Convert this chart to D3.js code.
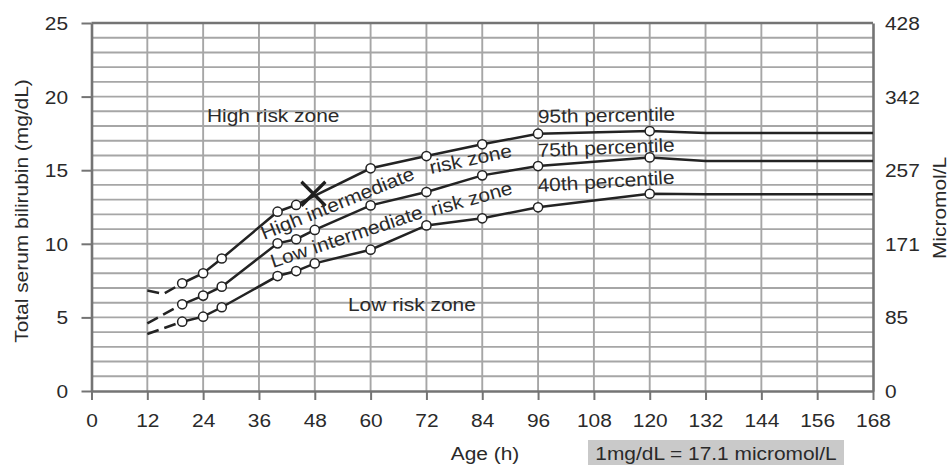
<!DOCTYPE html>
<html><head><meta charset="utf-8">
<script src="https://cdn.jsdelivr.net/npm/d3@7"></script>
<style>
body{margin:0;background:#fff}
text{font-family:"Liberation Sans",Arial,Helvetica,sans-serif;fill:#2a2a2a}
</style>
</head><body>
<svg id="c" width="949" height="465"></svg>
<script>
// ---- data ----
const xTicks = [0,12,24,36,48,60,72,84,96,108,120,132,144,156,168];
const yTicks = [0,5,10,15,20,25];
const yTickMicromol = ["0","85","171","257","342","428"];

const p95Hours  = [19.5,24,28,40,44,60,72,84,96,120,132,168];
const p95Values = [7.32,8.0,9.0,12.18,12.64,15.13,15.96,16.76,17.48,17.66,17.52,17.52];
const p75Hours  = [19.5,24,28,40,44,48,60,72,84,96,120,132,168];
const p75Values = [5.89,6.48,7.09,10.03,10.31,10.94,12.61,13.52,14.65,15.28,15.87,15.62,15.62];
const p40Hours  = [19.5,24,28,40,44,48,60,72,84,96,120,132,168];
const p40Values = [4.71,5.05,5.69,7.81,8.15,8.67,9.6,11.25,11.73,12.48,13.4,13.36,13.36];

const p95EarlyHours  = [12,15.5,19.5];
const p95EarlyValues = [6.83,6.6,7.32];
const p75EarlyHours  = [12,19.5];
const p75EarlyValues = [4.6,5.89];
const p40EarlyHours  = [12,19.5];
const p40EarlyValues = [3.87,4.71];

const markerMaxHour = 120;
const patientHour = [47.7];
const patientValue = [13.4];

// ---- setup ----
const svg = d3.select("#c");
const L = 91.5, R = 873, T = 23, B = 391;
const x = d3.scaleLinear().domain([0,168]).range([L,R]);
const y = d3.scaleLinear().domain([0,25]).range([B,T]);
const SX = 1.1;

function label(txt, px, py, rot, anchor, size){
  svg.append("text")
    .attr("transform", `translate(${px},${py}) rotate(${rot||0}) scale(${SX},1)`)
    .attr("text-anchor", anchor||"start")
    .style("font-size", (size||19)+"px")
    .text(txt);
}

// plot background
svg.append("rect").attr("x",L).attr("y",T).attr("width",R-L).attr("height",B-T).attr("fill","#fff");

// grid
const grid = svg.append("g");
grid.selectAll("line.h").data(d3.range(1,25)).join("line")
  .attr("x1",L).attr("x2",R).attr("y1",d=>y(d)).attr("y2",d=>y(d))
  .attr("stroke","#a6a6a6").attr("stroke-width",1.9);
grid.selectAll("line.v").data(xTicks.slice(1,-1)).join("line")
  .attr("y1",T).attr("y2",B).attr("x1",d=>x(d)).attr("x2",d=>x(d))
  .attr("stroke","#a6a6a6").attr("stroke-width",1.9);

// axes
const axisColor = "#747474";
const gx = svg.append("g").attr("transform",`translate(0,${B})`)
  .call(d3.axisBottom(x).tickValues(xTicks).tickSize(9).tickSizeOuter(0));
gx.selectAll("text").attr("y",36).attr("dy",0).attr("transform",`scale(${SX},1)`).style("font-size","19px");
const gy = svg.append("g").attr("transform",`translate(${L},0)`)
  .call(d3.axisLeft(y).tickValues(yTicks).tickSize(10).tickSizeOuter(0));
gy.selectAll("text").attr("x",-23.5/SX).attr("dy","0.34em").attr("transform",`scale(${SX},1)`).style("font-size","19px");
const gr = svg.append("g").attr("transform",`translate(${R},0)`)
  .call(d3.axisRight(y).tickValues(yTicks).tickSize(0).tickSizeOuter(0)
    .tickFormat((d,i)=>yTickMicromol[i]));
gr.selectAll("text").attr("x",12/SX).attr("dy","0.34em").attr("transform",`scale(${SX},1)`).style("font-size","19px");
[gx,gy,gr].forEach(g=>{
  g.selectAll(".domain").attr("stroke",axisColor).attr("stroke-width",2.6);
  g.selectAll(".tick line").attr("stroke",axisColor).attr("stroke-width",2);
  g.selectAll("text").attr("fill","#2a2a2a").style("font-family",'"Liberation Sans",Arial,sans-serif');
});
// top frame
svg.append("line").attr("x1",L).attr("x2",R).attr("y1",T).attr("y2",T)
  .attr("stroke",axisColor).attr("stroke-width",2.6);

// curves
const line = d3.line().x(d=>x(d[0])).y(d=>y(d[1]));
const ink = "#232323";
const series = [
  [p95Hours,p95Values,p95EarlyHours,p95EarlyValues],
  [p75Hours,p75Values,p75EarlyHours,p75EarlyValues],
  [p40Hours,p40Values,p40EarlyHours,p40EarlyValues]
];
series.forEach(([h,v,eh,ev])=>{
  const pts = h.map((d,i)=>[d,v[i]]);
  const early = eh.map((d,i)=>[d,ev[i]]);
  svg.append("path").attr("d",line(early)).attr("fill","none")
    .attr("stroke",ink).attr("stroke-width",2.5).attr("stroke-dasharray","12,6");
  svg.append("path").attr("d",line(pts)).attr("fill","none")
    .attr("stroke",ink).attr("stroke-width",2.5);
  svg.selectAll(null).data(pts.filter(p=>p[0]<=markerMaxHour)).join("circle")
    .attr("cx",d=>x(d[0])).attr("cy",d=>y(d[1])).attr("r",4.6)
    .attr("fill","#fff").attr("stroke",ink).attr("stroke-width",1.5);
});

// patient marker X
patientHour.forEach((h,i)=>{
  const cx = x(h), cy = y(patientValue[i]), s = 12;
  svg.append("path")
    .attr("d",`M${cx-s},${cy-s}L${cx+s},${cy+s}M${cx+s},${cy-s}L${cx-s},${cy+s}`)
    .attr("stroke","#1e1e1e").attr("stroke-width",3.2);
});

// annotations
label("High risk zone", 207, 122, 0);
label("Low risk zone", 348, 311, 0);
label("95th percentile", 538, 123, -1);
label("75th percentile", 538, 157, -2.4);
label("40th percentile", 538, 192, -3.5);
label("High intermediate", 264, 240, -22);
label("risk zone", 431, 174, -12);
label("Low intermediate", 273, 268, -18.5);
label("risk zone", 433, 216, -15.5);

// axis titles
label("Total serum bilirubin (mg/dL)", 28, 211, -90, "middle");
label("Micromol/L", 946, 208, -90, "middle");
label("Age (h)", 485, 460, 0, "middle");
svg.append("rect").attr("x",588).attr("y",440).attr("width",256).attr("height",25).attr("fill","#c9c9c9");
label("1mg/dL = 17.1 micromol/L", 716, 460, 0, "middle");
</script>
</body></html>
